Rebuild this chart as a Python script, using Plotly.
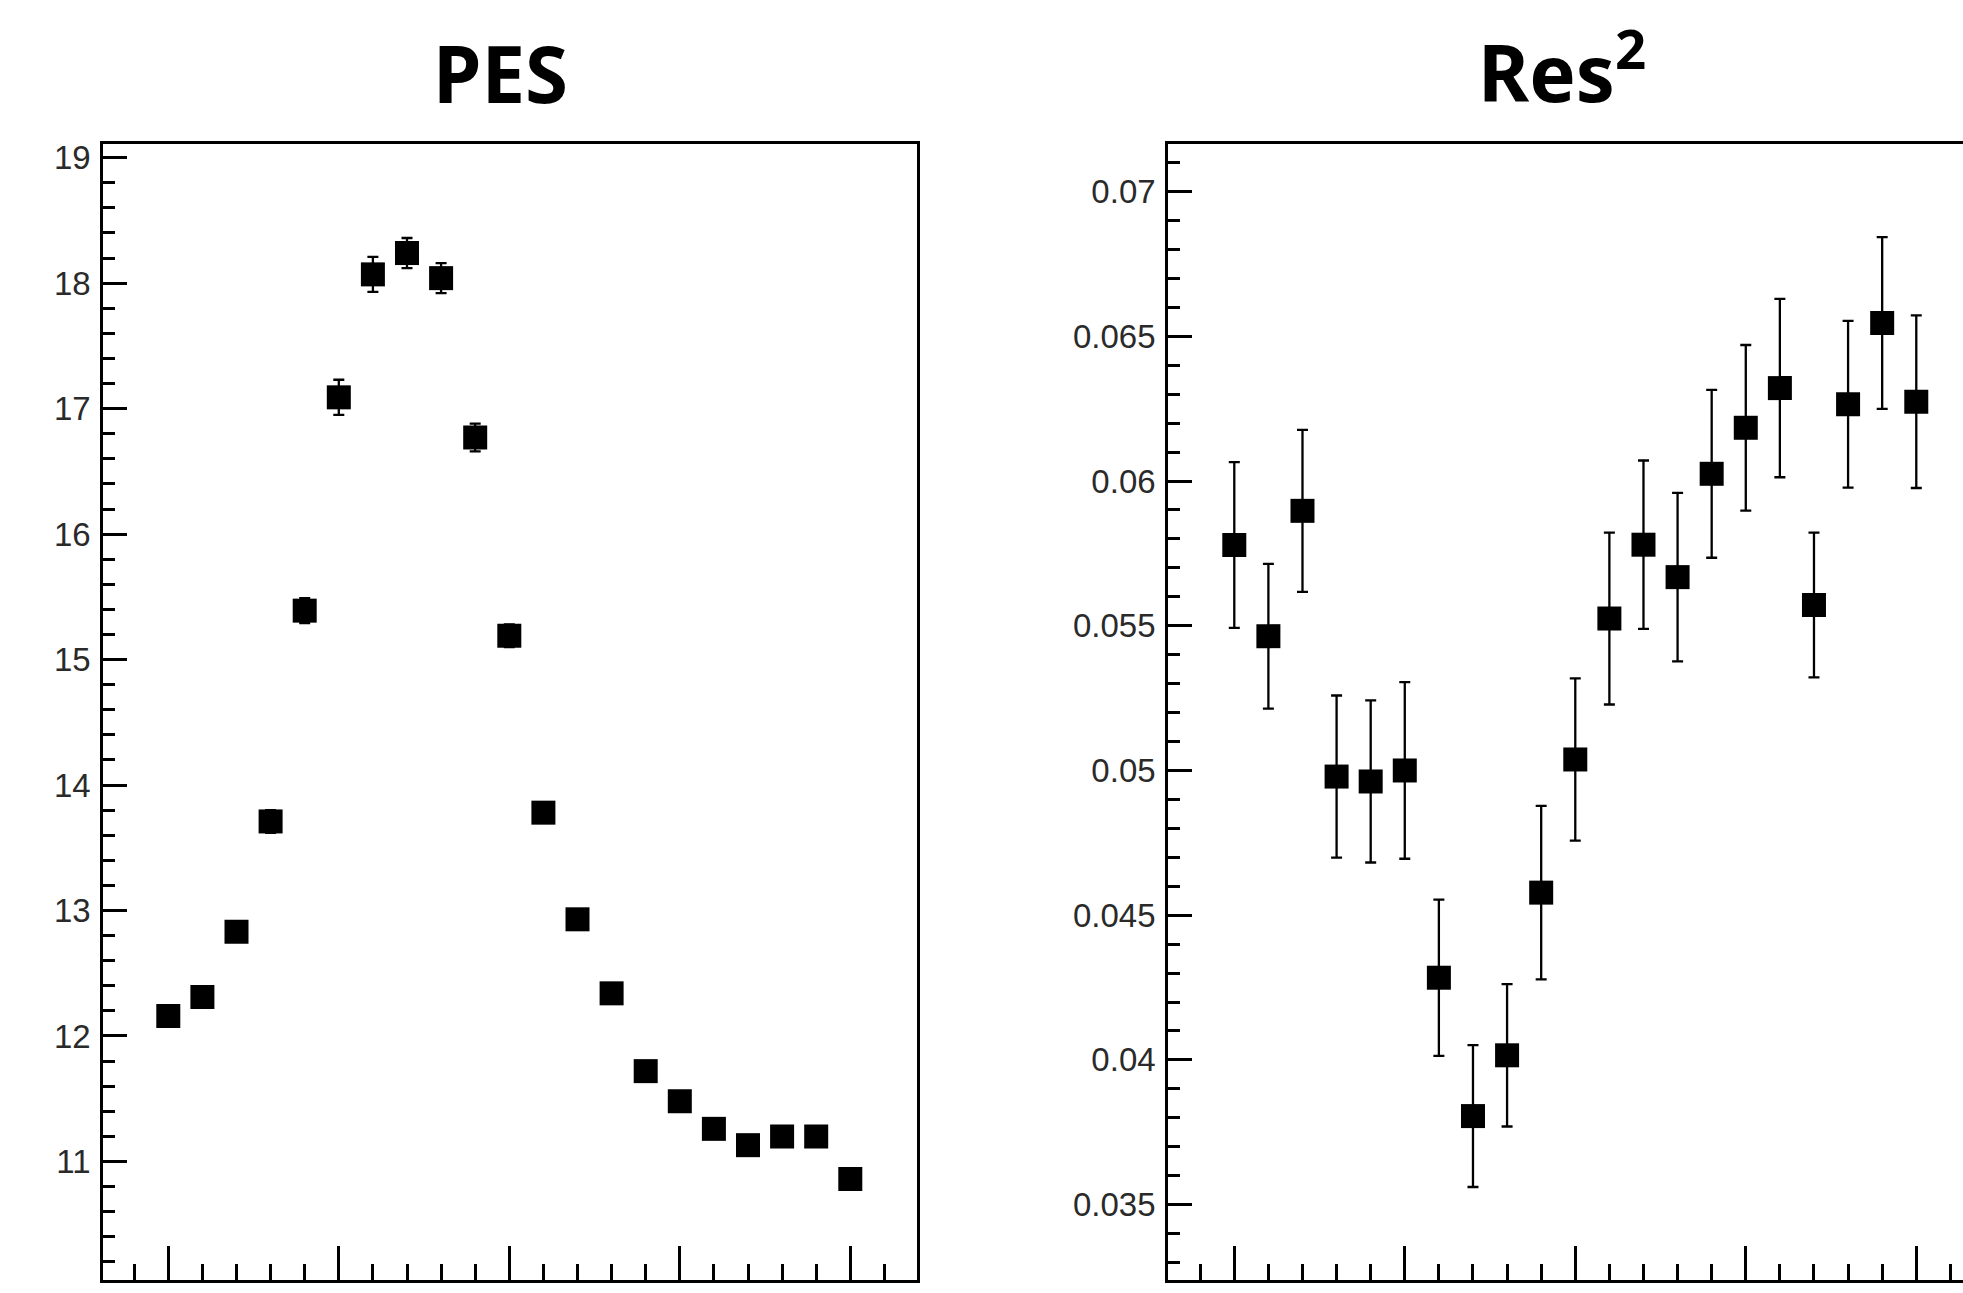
import plotly.graph_objects as go

# ---------------- data ----------------
point_index = list(range(21))

pes_values = [12.16, 12.31, 12.83, 13.71, 15.39, 17.09, 18.07, 18.24, 18.04, 16.77, 15.19,
              13.78, 12.93, 12.34, 11.72, 11.48, 11.26, 11.13, 11.20, 11.20, 10.86]
pes_errors = [0.07, 0.07, 0.08, 0.09, 0.10, 0.14, 0.14, 0.12, 0.12, 0.11, 0.09,
              0.08, 0.07, 0.07, 0.06, 0.06, 0.06, 0.06, 0.06, 0.06, 0.06]

res2_values = [0.05779, 0.05464, 0.05897, 0.04979, 0.04962, 0.05000, 0.04284, 0.03806,
               0.04016, 0.04578, 0.05038, 0.05525, 0.05780, 0.05668, 0.06025, 0.06184,
               0.06321, 0.05572, 0.06265, 0.06546, 0.06274]
res2_errors = [0.00286, 0.00250, 0.00280, 0.00280, 0.00280, 0.00305, 0.00270, 0.00245,
               0.00246, 0.00300, 0.00280, 0.00297, 0.00291, 0.00291, 0.00290, 0.00286,
               0.00308, 0.00250, 0.00288, 0.00297, 0.00298]

pes_ticks = [11, 12, 13, 14, 15, 16, 17, 18, 19]
pes_ticktext = ["11", "12", "13", "14", "15", "16", "17", "18", "19"]
res2_ticks = [0.035, 0.04, 0.045, 0.05, 0.055, 0.06, 0.065, 0.07]
res2_ticktext = ["0.035", "0.04", "0.045", "0.05", "0.055", "0.06", "0.065", "0.07"]

titles = ["PES", "Res<sup>2</sup>"]

# ---------------- figure ----------------
W, H = 1963, 1293
fig = go.Figure()

err_style = dict(type="data", color="black", thickness=2.3, width=5.5, visible=True)
mk = dict(symbol="square", size=24, color="black", line=dict(width=0))

fig.add_trace(go.Scatter(x=point_index, y=pes_values, mode="markers", marker=mk,
                         error_y=dict(array=pes_errors, **err_style),
                         xaxis="x", yaxis="y", showlegend=False))
fig.add_trace(go.Scatter(x=point_index, y=res2_values, mode="markers", marker=mk,
                         error_y=dict(array=res2_errors, **err_style),
                         xaxis="x2", yaxis="y2", showlegend=False))

tick_font = dict(family="Liberation Sans, Arial, sans-serif", size=33, color="#2a2a2a")
ydom = [1 - 1280.0 / H, 1 - 139.8 / H]

def xax(domain, rng, mirror):
    return dict(domain=domain, range=rng, showgrid=False, zeroline=False,
                showline=True, linecolor="black", linewidth=3, mirror=mirror,
                ticks="inside", ticklen=34, tickwidth=2.5, tickcolor="black",
                tickmode="linear", tick0=0, dtick=5, showticklabels=False,
                minor=dict(ticks="inside", ticklen=16, tickwidth=2.5, tickcolor="black",
                           tickmode="linear", tick0=0, dtick=1, showgrid=False))

def yax(rng, tv, tt, minor_dtick, anchor, mirror):
    return dict(domain=ydom, range=rng, anchor=anchor, showgrid=False, zeroline=False,
                showline=True, linecolor="black", linewidth=3, mirror=mirror,
                ticks="inside", ticklen=24, tickwidth=2.5, tickcolor="black",
                tickmode="array", tickvals=tv, ticktext=tt, tickfont=tick_font,
                ticklabelstandoff=3,
                minor=dict(ticks="inside", ticklen=12, tickwidth=2.5, tickcolor="black",
                           tickmode="linear", tick0=0, dtick=minor_dtick, showgrid=False))

fig.update_layout(
    width=W, height=H,
    margin=dict(l=0, r=0, t=0, b=0),
    paper_bgcolor="white", plot_bgcolor="white",
    xaxis=xax([103.2 / W, 917.2 / W], [-1.909, 21.962], True) | dict(anchor="y"),
    yaxis=yax([10.055, 19.107], pes_ticks, pes_ticktext, 0.2, "x", True),
    xaxis2=xax([1168.2 / W, 1.0], [-1.938, 21.37], True) | dict(anchor="y2"),
    yaxis2=yax([0.032395, 0.071635], res2_ticks, res2_ticktext, 0.001, "x2", False),
)

title_font = dict(family="Noto Sans, sans-serif", size=78, color="black")
for txt, xc, yc in zip(titles, [500 / W, 1562 / W], [68, 63]):
    fig.add_annotation(text="<b>" + txt + "</b>", x=xc, y=1 - yc / H, xref="paper",
                       yref="paper", xanchor="center", yanchor="middle",
                       showarrow=False, font=title_font)

fig.write_html("out.html", config={"displayModeBar": False},
               post_script="document.body.style.margin='0';document.body.style.overflow='hidden';")
